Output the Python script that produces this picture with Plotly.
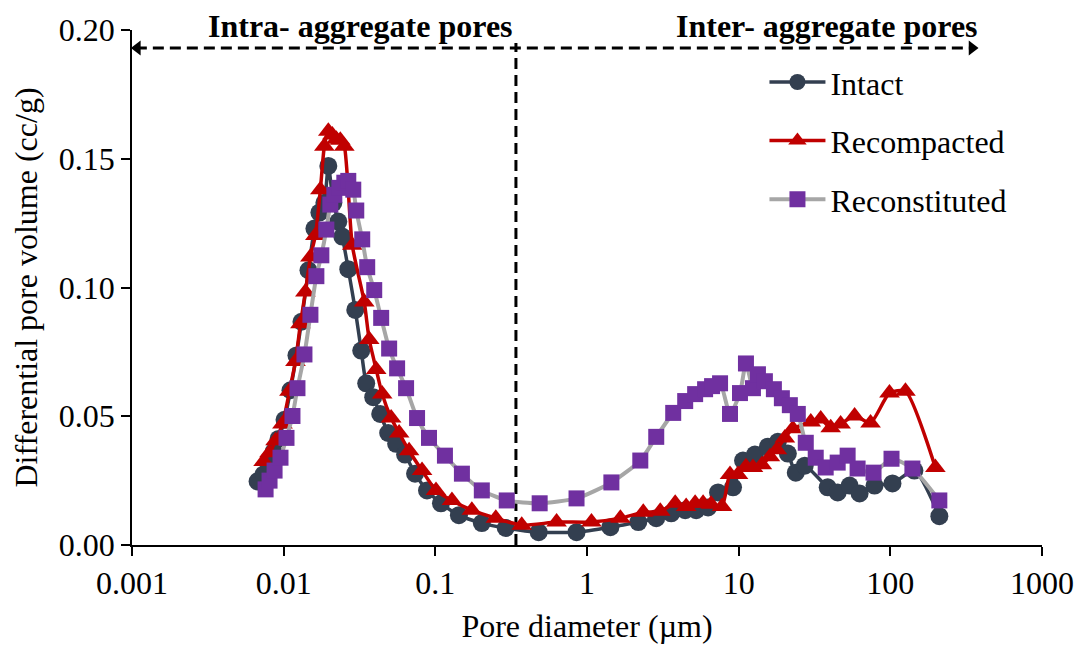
import plotly.graph_objects as go

# ---------------- data ----------------
intact_x = [0.00673, 0.00737, 0.00795, 0.00857, 0.00925, 0.01013, 0.01109, 0.01214, 0.0131, 0.01457,
            0.01595, 0.0172, 0.01855, 0.0197, 0.02126, 0.02293, 0.02436, 0.02667, 0.02965, 0.03247,
            0.03501, 0.03894, 0.04329, 0.04886, 0.05513, 0.06318, 0.0735, 0.08814, 0.1089, 0.143,
            0.2025, 0.2913, 0.48, 0.853, 1.427, 2.18, 2.861, 3.591, 4.44, 5.243,
            6.287, 7.312, 9.178, 10.68, 12.8, 15.59, 18.13, 21.1, 23.8, 27.28,
            38.64, 44.96, 53.89, 62.7, 78.66, 103.3, 144.1, 210.4]
intact_y = [0.0247, 0.0274, 0.0316, 0.0362, 0.0412, 0.0486, 0.0601, 0.0736, 0.0867, 0.1067,
            0.1229, 0.1291, 0.1329, 0.1472, 0.1329, 0.1256, 0.1198, 0.1071, 0.0913, 0.0755,
            0.0628, 0.0574, 0.0509, 0.0435, 0.0393, 0.0351, 0.0277, 0.0212, 0.0162, 0.0116,
            0.0085, 0.0066, 0.005, 0.005, 0.0069, 0.0089, 0.0104, 0.0123, 0.0135, 0.0135,
            0.0146, 0.0204, 0.0224, 0.0328, 0.0351, 0.0382, 0.0401, 0.0355, 0.0281, 0.0308,
            0.0224, 0.0204, 0.0231, 0.02, 0.0231, 0.0239, 0.0289, 0.0112]

recomp_x = [0.00737, 0.00807, 0.00884, 0.00982, 0.01092, 0.01196, 0.0129, 0.01391, 0.01501, 0.01619,
            0.01746, 0.01855, 0.0197, 0.02094, 0.02224, 0.02363, 0.02511, 0.02834, 0.03398, 0.03664,
            0.04074, 0.04462, 0.05111, 0.05769, 0.06714, 0.08173, 0.101, 0.1287, 0.1741, 0.2504,
            0.3711, 0.6302, 1.07, 1.66, 2.35, 3.041, 3.815, 4.507, 5.164, 5.828,
            6.578, 7.771, 8.77, 9.897, 11.17, 12.42, 14.23, 16.07, 17.86, 20.16,
            22.75, 29.88, 34.75, 40.44, 47.01, 58.13, 74.06, 98.71, 125.8, 198.1]
recomp_y = [0.0324, 0.0358, 0.0405, 0.047, 0.0597, 0.0713, 0.0859, 0.0983, 0.1118, 0.1202,
            0.138, 0.1549, 0.1607, 0.1592, 0.1576, 0.1572, 0.1549, 0.1164, 0.0944, 0.0798,
            0.0682, 0.0586, 0.0493, 0.0435, 0.0366, 0.0289, 0.0212, 0.0173, 0.0135, 0.0104,
            0.0077, 0.0089, 0.0089, 0.0104, 0.0127, 0.0131, 0.0162, 0.015, 0.0162, 0.0162,
            0.0158, 0.015, 0.0274, 0.0274, 0.0304, 0.0301, 0.0312, 0.0343, 0.037, 0.0416,
            0.0451, 0.0478, 0.0489, 0.0455, 0.047, 0.0501, 0.0474, 0.059, 0.0597, 0.0301]

recon_x = [0.0076, 0.00807, 0.00871, 0.00953, 0.01044, 0.01143, 0.01233, 0.01371, 0.01501, 0.01643,
           0.01772, 0.01912, 0.02031, 0.02158, 0.02328, 0.02511, 0.02667, 0.02877, 0.03011, 0.03296,
           0.03555, 0.03954, 0.04395, 0.0496, 0.05597, 0.06415, 0.07577, 0.09085, 0.1157, 0.1497,
           0.2025, 0.2957, 0.4874, 0.853, 1.448, 2.246, 2.861, 3.702, 4.44, 5.164,
           6.007, 6.678, 7.539, 8.77, 10.2, 11.17, 12.42, 13.4, 14.89, 17.07,
           19.27, 21.75, 24.54, 27.7, 32.22, 37.48, 44.96, 52.29, 60.83, 77.5,
           101.8, 139.8, 210.4]
recon_y = [0.0216, 0.025, 0.0289, 0.0339, 0.0416, 0.0501, 0.0609, 0.074, 0.0894, 0.1044,
           0.1125, 0.1225, 0.1322, 0.136, 0.1387, 0.1407, 0.1414, 0.138, 0.1299, 0.1187,
           0.1079, 0.099, 0.0882, 0.0763, 0.0686, 0.0609, 0.0493, 0.0416, 0.0347, 0.0277,
           0.0212, 0.0173, 0.0162, 0.0181, 0.0243, 0.0328, 0.042, 0.0513, 0.0559, 0.0586,
           0.0605, 0.0617, 0.0628, 0.0509, 0.059, 0.0705, 0.0609, 0.0663, 0.0636, 0.0605,
           0.057, 0.0543, 0.0509, 0.0397, 0.0339, 0.0301, 0.032, 0.0347, 0.0297, 0.0281,
           0.0335, 0.0297, 0.0173]

x_tickvals = [0.001, 0.01, 0.1, 1, 10, 100, 1000]
x_ticktext = ["0.001", "0.01", "0.1", "1", "10", "100", "1000"]
y_tickvals = [0.0, 0.05, 0.10, 0.15, 0.20]

boundary_x = 0.34       # intra / inter aggregate boundary (µm)
arrow_y = 0.193
arrow_x_left = 0.001
arrow_x_right = 375

FONT = "Liberation Serif, Times New Roman, serif"
FS = 32

fig = go.Figure()

# guide lines (dashed)
fig.add_trace(go.Scatter(x=[boundary_x, boundary_x], y=[0, arrow_y + 0.002], mode="lines",
                         line=dict(color="black", width=3, dash="11px,6px"),
                         showlegend=False, hoverinfo="skip"))
fig.add_trace(go.Scatter(x=[arrow_x_left * 1.06, arrow_x_right / 1.06], y=[arrow_y, arrow_y], mode="lines",
                         line=dict(color="black", width=3, dash="11px,6px"),
                         showlegend=False, hoverinfo="skip", cliponaxis=False))
fig.add_trace(go.Scatter(x=[arrow_x_left * 1.085, arrow_x_right / 1.085], y=[arrow_y, arrow_y], mode="markers",
                         marker=dict(symbol=["triangle-left", "triangle-right"], size=13, color="black"),
                         showlegend=False, hoverinfo="skip", cliponaxis=False))

fig.add_trace(go.Scatter(x=intact_x, y=intact_y, name="Intact", mode="lines+markers",
                         line=dict(color="#333F50", width=3.5, shape="spline", smoothing=0.6),
                         marker=dict(symbol="circle", size=18, color="#333F50"),
                         legendgroup="a"))
fig.add_trace(go.Scatter(x=recomp_x, y=recomp_y, name="Recompacted", mode="lines+markers",
                         line=dict(color="#C00000", width=3.5, shape="spline", smoothing=0.6),
                         marker=dict(symbol="triangle-up", size=18, color="#C00000"),
                         legendgroup="b"))
fig.add_trace(go.Scatter(x=recon_x, y=recon_y, name="Reconstituted", mode="lines+markers",
                         line=dict(color="#A6A6A6", width=4, shape="spline", smoothing=0.6),
                         marker=dict(symbol="square", size=16, color="#7030A0"),
                         legendgroup="c"))

fig.add_annotation(x=-1.495, y=1.008, xref="x", yref="paper", text="<b>Intra- aggregate pores</b>",
                   showarrow=False, font=dict(family=FONT, size=FS, color="black"), yanchor="middle")
fig.add_annotation(x=1.58, y=1.008, xref="x", yref="paper", text="<b>Inter- aggregate pores</b>",
                   showarrow=False, font=dict(family=FONT, size=FS, color="black"), yanchor="middle")

fig.update_layout(
    width=1086, height=652,
    margin=dict(l=132, r=41, t=26, b=107),
    paper_bgcolor="white", plot_bgcolor="white",
    font=dict(family=FONT, size=FS, color="black"),
    legend=dict(x=0.695, y=0.952, xanchor="left", yanchor="top", bgcolor="rgba(0,0,0,0)",
                font=dict(family=FONT, size=FS, color="black"), tracegroupgap=14, itemwidth=56),
    showlegend=True,
)
fig.update_xaxes(type="log", range=[-3, 3], tickvals=x_tickvals, ticktext=x_ticktext,
                 showgrid=False, zeroline=False, showline=True, linecolor="black", linewidth=1.5,
                 ticks="outside", ticklen=9, tickwidth=1.5, tickcolor="black",
                 title=dict(text="Pore diameter (µm)", font=dict(family=FONT, size=FS), standoff=14))
fig.update_yaxes(range=[0, 0.2], tickvals=y_tickvals, tickformat=".2f",
                 showgrid=False, zeroline=False, showline=True, linecolor="black", linewidth=1.5,
                 ticks="outside", ticklen=9, tickwidth=1.5, tickcolor="black",
                 title=dict(text="Differential pore volume (cc/g)", font=dict(family=FONT, size=FS), standoff=12))

fig.write_html("out.html")
